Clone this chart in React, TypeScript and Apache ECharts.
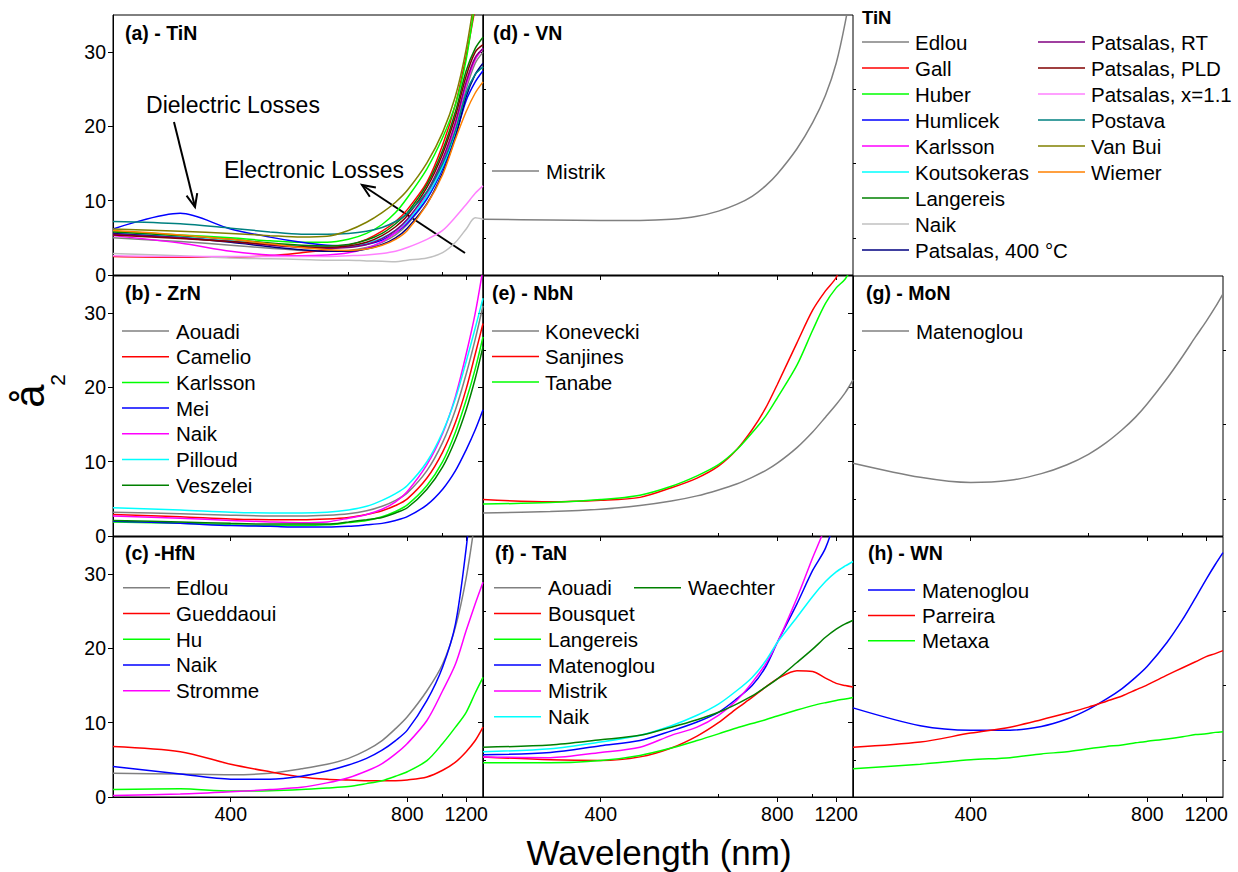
import React, { useEffect, useRef } from "react";
import * as echarts from "echarts";

// ---------- DATA ----------
const WAVELENGTHS = [300, 350, 400, 450, 500, 550, 600, 650, 700, 750, 800, 900, 1000, 1100, 1200, 1300, 1400];
const X_MAJOR_TICKS = [400, 800, 1200];
const X_MINOR_TICKS = [600, 1000];
const Y_MAJOR_TICKS = [0, 10, 20, 30];
const Y_MINOR_TICKS = [5, 15, 25];

// (a) TiN
const TIN_NAMES = ["Edlou", "Gall", "Huber", "Humlicek", "Karlsson", "Koutsokeras", "Langereis", "Naik", "Patsalas, 400 °C", "Patsalas, RT", "Patsalas, PLD", "Patsalas, x=1.1", "Postava", "Van Bui", "Wiemer"];
const tinEdlou = [5.0, 4.5, 4.0, 3.6, 3.3, 3.2, 3.3, 3.7, 4.4, 5.4, 6.8, 10.2, 14.5, 19.5, 25.0, 28.5, 30.0];
const tinGall = [2.5, 2.4, 2.4, 2.6, 3.0, 3.4, 4.0, 4.8, 5.9, 7.2, 8.8, 12.5, 17.5, 23.0, 29.5, 36, 42];
const tinHuber = [5.9, 5.4, 5.0, 4.6, 4.4, 4.4, 4.8, 5.6, 6.8, 8.4, 10.4, 14.3, 18.5, 23.0, 29.0, 37, 45];
const tinHumlicek = [6.2, 8.3, 6.2, 5.1, 4.4, 4.0, 3.9, 4.1, 4.7, 5.7, 7.0, 10.3, 14.3, 18.8, 23.5, 26.0, 27.5];
const tinKarlsson = [5.3, 4.3, 3.2, 2.7, 2.6, 2.7, 3.0, 3.6, 4.5, 5.7, 7.2, 10.8, 15.2, 20.2, 25.6, 29.0, 30.5];
const tinKoutsokeras = [5.6, 5.1, 4.6, 4.2, 3.9, 3.8, 3.9, 4.3, 5.0, 6.0, 7.3, 10.6, 14.6, 19.3, 24.5, 27.0, 28.0];
const tinLangereis = [5.8, 5.3, 4.8, 4.3, 4.0, 3.9, 4.1, 4.7, 5.6, 6.9, 8.4, 12.2, 16.8, 22.0, 27.5, 30.5, 32.0];
const tinNaik = [2.9, 2.6, 2.3, 2.2, 2.1, 2.0, 2.0, 1.9, 1.85, 1.8, 2.0, 2.3, 3.0, 4.4, 6.2, 7.7, 7.5];
const tinPatsalas400 = [5.6, 5.0, 4.4, 3.8, 3.4, 3.2, 3.2, 3.5, 4.1, 5.0, 6.3, 9.6, 13.8, 18.6, 24.0, 27.0, 28.5];
const tinPatsalasRT = [5.5, 5.0, 4.5, 4.0, 3.7, 3.6, 3.7, 4.1, 4.9, 6.0, 7.5, 11.2, 15.6, 20.6, 26.0, 29.3, 30.5];
const tinPatsalasPLD = [5.4, 4.9, 4.5, 4.1, 3.8, 3.7, 3.9, 4.4, 5.3, 6.5, 8.0, 11.8, 16.3, 21.4, 26.8, 30.0, 31.0];
const tinPatsalasX11 = [2.6, 2.5, 2.5, 2.5, 2.5, 2.5, 2.6, 2.7, 2.9, 3.2, 3.7, 4.8, 6.0, 7.8, 9.5, 11.0, 12.0];
const tinPostava = [7.2, 6.9, 6.3, 5.8, 5.5, 5.5, 5.6, 5.9, 6.4, 7.2, 8.3, 11.2, 15.0, 19.5, 24.5, 27.0, 28.0];
const tinVanBui = [6.2, 5.9, 5.6, 5.3, 5.1, 5.2, 6.0, 7.1, 8.4, 9.8, 11.4, 15.1, 19.2, 24.1, 30.4, 38, 46];
const tinWiemer = [6.0, 5.4, 4.8, 4.2, 3.7, 3.4, 3.3, 3.5, 4.0, 4.8, 6.0, 9.5, 13.5, 18.3, 22.0, 24.5, 26.0];

// (b) ZrN
const ZRN_NAMES = ["Aouadi", "Camelio", "Karlsson", "Mei", "Naik", "Pilloud", "Veszelei"];
const zrnAouadi = [3.2, 3.0, 2.8, 2.7, 2.7, 2.8, 3.0, 3.4, 4.0, 4.8, 5.8, 8.8, 12.6, 17.0, 21.8, 26.5, 31.0];
const zrnCamelio = [2.9, 2.6, 2.3, 2.2, 2.2, 2.3, 2.5, 2.9, 3.4, 4.1, 5.0, 7.8, 11.3, 15.3, 19.8, 24.5, 28.6];
const zrnKarlsson = [1.9, 1.7, 1.5, 1.4, 1.4, 1.5, 1.8, 2.1, 2.6, 3.3, 4.2, 6.8, 10.0, 14.0, 18.3, 22.5, 26.8];
const zrnMei = [2.0, 1.7, 1.4, 1.3, 1.2, 1.2, 1.3, 1.5, 1.7, 2.1, 2.6, 4.2, 6.3, 8.8, 11.6, 14.3, 17.0];
const zrnNaik = [2.7, 2.4, 2.1, 1.9, 1.8, 1.9, 2.4, 2.9, 3.6, 4.6, 6.0, 9.6, 13.8, 18.8, 24.5, 30.0, 36.0];
const zrnPilloud = [3.8, 3.5, 3.2, 3.1, 3.1, 3.2, 3.5, 4.0, 4.8, 5.7, 6.8, 10.0, 14.0, 18.5, 23.5, 28.0, 32.0];
const zrnVeszelei = [2.1, 1.9, 1.7, 1.6, 1.6, 1.6, 1.9, 2.2, 2.5, 3.1, 3.8, 6.3, 9.3, 13.0, 17.0, 21.2, 25.5];

// (c) HfN
const HFN_NAMES = ["Edlou", "Gueddaoui", "Hu", "Naik", "Stromme"];
const hfnEdlou = [3.2, 3.1, 3.0, 3.2, 3.8, 4.4, 5.2, 6.3, 7.6, 9.2, 10.8, 14.3, 17.9, 22.9, 29.5, 37.5, 46];
const hfnGueddaoui = [6.8, 6.1, 4.4, 3.4, 2.7, 2.4, 2.3, 2.2, 2.2, 2.2, 2.3, 2.7, 3.6, 4.7, 6.1, 7.6, 9.4];
const hfnHu = [1.0, 1.1, 0.8, 0.85, 1.0, 1.2, 1.4, 1.8, 2.2, 2.8, 3.4, 4.9, 7.2, 9.4, 11.4, 14.0, 16.1];
const hfnNaik = [4.1, 3.1, 2.4, 2.4, 2.8, 3.5, 4.3, 5.2, 6.3, 7.6, 9.0, 13.0, 17.5, 23.3, 33.5, 45, 55];
const hfnStromme = [0.2, 0.4, 0.7, 1.0, 1.3, 1.9, 2.6, 3.5, 4.5, 5.8, 7.2, 10.3, 14.3, 17.9, 22.4, 26.0, 28.9];

// (d) VN
const VN_NAMES = ["Mistrik"];
const vnMistrik = [7.5, 7.4, 7.35, 7.35, 7.5, 7.9, 8.6, 9.5, 10.6, 12.0, 13.6, 17.0, 20.5, 24.2, 28.5, 34, 40];

// (e) NbN
const NBN_NAMES = ["Konevecki", "Sanjines", "Tanabe"];
const nbnKonevecki = [3.1, 3.3, 3.6, 4.1, 4.7, 5.4, 6.2, 7.0, 7.9, 8.8, 9.8, 11.9, 14.0, 16.0, 17.7, 19.3, 21.0];
const nbnSanjines = [4.9, 4.6, 4.8, 5.2, 6.5, 7.8, 9.4, 11.6, 14.3, 17.2, 20.4, 26.0, 30.4, 33.0, 34.8, 38, 42];
const nbnTanabe = [4.3, 4.5, 4.9, 5.5, 6.7, 8.1, 9.6, 11.6, 13.9, 16.1, 18.6, 23.0, 27.7, 31.3, 33.4, 34.6, 36.5];

// (f) TaN
const TAN_NAMES = ["Aouadi", "Bousquet", "Langereis", "Matenoglou", "Mistrik", "Naik", "Waechter"];
const tanAouadi = [38, 38.5, 39, 40, 41, 42, 43, 44, 45, 46, 47, 49, 51, 53, 55, 57, 59];
const tanBousquet = [5.4, 5.0, 4.9, 5.4, 6.6, 8.2, 10.0, 11.9, 13.4, 14.8, 15.9, 17.0, 16.9, 16.0, 15.3, 15.0, 14.8];
const tanLangereis = [4.6, 4.6, 4.9, 5.6, 6.6, 7.6, 8.5, 9.3, 9.9, 10.4, 10.9, 11.7, 12.3, 12.7, 13.0, 13.2, 13.4];
const tanMatenoglou = [5.7, 6.0, 6.9, 7.6, 8.9, 10.1, 11.4, 13.2, 15.0, 17.5, 20.8, 26.0, 30.5, 33.5, 38, 44, 50];
const tanMistrik = [5.4, 5.3, 6.0, 6.7, 8.3, 9.4, 11.0, 13.0, 15.4, 17.9, 20.8, 26.8, 32.2, 36.5, 42, 48, 54];
const tanNaik = [6.1, 6.5, 7.4, 8.3, 9.6, 11.0, 12.5, 14.3, 16.1, 18.3, 20.8, 24.2, 27.0, 29.0, 30.3, 31.1, 31.7];
const tanWaechter = [6.7, 7.0, 7.7, 8.3, 9.4, 10.4, 11.4, 12.5, 13.6, 14.8, 15.9, 18.1, 19.9, 21.5, 22.6, 23.3, 23.8];

// (g) MoN
const MON_NAMES = ["Matenoglou"];
const monMatenoglou = [9.8, 7.9, 7.2, 7.5, 8.4, 9.6, 11.0, 12.6, 14.3, 16.0, 17.8, 21.2, 24.2, 26.8, 28.9, 30.8, 32.6];

// (h) WN
const WN_NAMES = ["Matenoglou", "Parreira", "Metaxa"];
const wnMatenoglou = [12.0, 9.6, 9.0, 9.0, 9.5, 10.5, 11.8, 13.2, 14.6, 16.1, 17.6, 20.8, 23.9, 26.8, 29.3, 31.3, 32.9];
const wnParreira = [6.7, 7.4, 8.6, 9.4, 10.4, 11.3, 12.1, 12.9, 13.6, 14.4, 15.1, 16.4, 17.4, 18.2, 18.9, 19.3, 19.7];
const wnMetaxa = [3.8, 4.4, 5.0, 5.3, 5.8, 6.1, 6.5, 6.8, 7.0, 7.3, 7.5, 7.8, 8.1, 8.4, 8.5, 8.7, 8.8];

// ---------- STYLE ----------
const C = {
  gray: "#808080", red: "#ff0000", green: "#00ff00", blue: "#0000ff", magenta: "#ff00ff",
  cyan: "#00ffff", dkgreen: "#008000", ltgray: "#c0c0c0", navy: "#000080", purple: "#800080",
  wine: "#800000", pink: "#ff80ff", teal: "#008080", olive: "#808000", orange: "#ff8000",
};
const FONT = "'Liberation Sans', Arial, Helvetica, sans-serif";
const COL_LEFT = [113, 483, 853];
const ROW_TOP = [15, 276, 537];
const GRID_W = 370;
const GRID_H = 260;

type Legend = { lineX: number; textX: number; y0: number; gap: number; rowsPerCol: number; colDX: number };
type Panel = {
  label: string; labelX: number; labelY: number; col: number; row: number;
  names: string[]; values: number[][]; colors: string[]; legend: Legend;
};

const PANELS: Panel[] = [
  {
    label: "(a) - TiN", labelX: 125, labelY: 33, col: 0, row: 0, names: TIN_NAMES,
    values: [tinEdlou, tinGall, tinHuber, tinHumlicek, tinKarlsson, tinKoutsokeras, tinLangereis, tinNaik, tinPatsalas400, tinPatsalasRT, tinPatsalasPLD, tinPatsalasX11, tinPostava, tinVanBui, tinWiemer],
    colors: [C.gray, C.red, C.green, C.blue, C.magenta, C.cyan, C.dkgreen, C.ltgray, C.navy, C.purple, C.wine, C.pink, C.teal, C.olive, C.orange],
    legend: { lineX: 862, textX: 915, y0: 42, gap: 26, rowsPerCol: 9, colDX: 176 },
  },
  {
    label: "(b) - ZrN", labelX: 125, labelY: 292.5, col: 0, row: 1, names: ZRN_NAMES,
    values: [zrnAouadi, zrnCamelio, zrnKarlsson, zrnMei, zrnNaik, zrnPilloud, zrnVeszelei],
    colors: [C.gray, C.red, C.green, C.blue, C.magenta, C.cyan, C.dkgreen],
    legend: { lineX: 122, textX: 176, y0: 331, gap: 25.7, rowsPerCol: 99, colDX: 0 },
  },
  {
    label: "(c) -HfN", labelX: 125, labelY: 552.5, col: 0, row: 2, names: HFN_NAMES,
    values: [hfnEdlou, hfnGueddaoui, hfnHu, hfnNaik, hfnStromme],
    colors: [C.gray, C.red, C.green, C.blue, C.magenta],
    legend: { lineX: 123, textX: 176, y0: 587.7, gap: 25.75, rowsPerCol: 99, colDX: 0 },
  },
  {
    label: "(d) - VN", labelX: 493, labelY: 33, col: 1, row: 0, names: VN_NAMES,
    values: [vnMistrik], colors: [C.gray],
    legend: { lineX: 492, textX: 546, y0: 171, gap: 25.7, rowsPerCol: 99, colDX: 0 },
  },
  {
    label: "(e) - NbN", labelX: 492, labelY: 292.5, col: 1, row: 1, names: NBN_NAMES,
    values: [nbnKonevecki, nbnSanjines, nbnTanabe], colors: [C.gray, C.red, C.green],
    legend: { lineX: 492, textX: 545, y0: 331, gap: 25.5, rowsPerCol: 99, colDX: 0 },
  },
  {
    label: "(f) - TaN", labelX: 495, labelY: 552.5, col: 1, row: 2, names: TAN_NAMES,
    values: [tanAouadi, tanBousquet, tanLangereis, tanMatenoglou, tanMistrik, tanNaik, tanWaechter],
    colors: [C.gray, C.red, C.green, C.blue, C.magenta, C.cyan, C.dkgreen],
    legend: { lineX: 494, textX: 548, y0: 587.7, gap: 25.8, rowsPerCol: 6, colDX: 140 },
  },
  {
    label: "(g) - MoN", labelX: 866, labelY: 292.5, col: 2, row: 1, names: MON_NAMES,
    values: [monMatenoglou], colors: [C.gray],
    legend: { lineX: 862, textX: 916, y0: 331, gap: 25.7, rowsPerCol: 99, colDX: 0 },
  },
  {
    label: "(h) - WN", labelX: 868, labelY: 552.5, col: 2, row: 2, names: WN_NAMES,
    values: [wnMatenoglou, wnParreira, wnMetaxa], colors: [C.blue, C.red, C.green],
    legend: { lineX: 868, textX: 922, y0: 590, gap: 25.4, rowsPerCol: 99, colDX: 0 },
  },
];

const toEnergy = (nm: number) => 1240 / nm;

function arrow(x1: number, y1: number, x2: number, y2: number) {
  const dx = x2 - x1, dy = y2 - y1;
  const len = Math.hypot(dx, dy);
  const ux = dx / len, uy = dy / len;
  const bx = x2 - 13 * ux, by = y2 - 13 * uy;
  const nx = -uy, ny = ux;
  return [
    { type: "line", shape: { x1, y1, x2, y2 }, style: { stroke: "#000", lineWidth: 2 }, silent: true },
    {
      type: "polyline",
      shape: { points: [[bx + 5.5 * nx, by + 5.5 * ny], [x2, y2], [bx - 5.5 * nx, by - 5.5 * ny]] },
      style: { stroke: "#000", lineWidth: 2, fill: null }, silent: true,
    },
  ];
}

function buildOption() {
  const grid: any[] = [];
  const xAxis: any[] = [];
  const yAxis: any[] = [];
  const series: any[] = [];
  const graphic: any[] = [];

  PANELS.forEach((p, i) => {
    grid.push({
      left: COL_LEFT[p.col], top: ROW_TOP[p.row], width: GRID_W, height: GRID_H,
      show: true, borderColor: "#000", borderWidth: 1, backgroundColor: "transparent",
    });
    const xBase = {
      type: "value", gridIndex: i, inverse: true, min: toEnergy(1400), max: toEnergy(300),
      splitLine: { show: false },
      axisLine: { show: true, onZero: false, lineStyle: { color: "#000", width: 1 } },
    };
    xAxis.push({
      ...xBase,
      axisTick: { show: true, customValues: X_MAJOR_TICKS.map(toEnergy), length: 5, lineStyle: { color: "#000", width: 1 } },
      axisLabel: {
        show: p.row === 2, customValues: X_MAJOR_TICKS.map(toEnergy),
        formatter: (v: number) => String(Math.round(1240 / v)),
        fontSize: 19.5, color: "#000", fontFamily: FONT, margin: 7,
      },
    });
    xAxis.push({
      ...xBase,
      axisLine: { show: false },
      axisTick: { show: true, customValues: X_MINOR_TICKS.map(toEnergy), length: 3, lineStyle: { color: "#000", width: 1 } },
      axisLabel: { show: false },
    });
    const yBase = {
      type: "value", gridIndex: i, min: 0, max: 35, splitLine: { show: false },
      axisLine: { show: true, onZero: false, lineStyle: { color: "#000", width: 1 } },
    };
    yAxis.push({
      ...yBase,
      axisTick: { show: true, customValues: Y_MAJOR_TICKS, length: 5, lineStyle: { color: "#000", width: 1 } },
      axisLabel: { show: p.col === 0, customValues: Y_MAJOR_TICKS, fontSize: 19.5, color: "#000", fontFamily: FONT, margin: 7 },
    });
    yAxis.push({
      ...yBase,
      axisLine: { show: false },
      axisTick: { show: true, customValues: Y_MINOR_TICKS, length: 3, lineStyle: { color: "#000", width: 1 } },
      axisLabel: { show: false },
    });

    p.names.forEach((name, j) => {
      series.push({
        type: "line", name, xAxisIndex: 2 * i, yAxisIndex: 2 * i,
        data: WAVELENGTHS.map((w, k) => [toEnergy(w), p.values[j][k]]),
        smooth: 0.3, symbol: "none", showSymbol: false, clip: true, silent: true,
        lineStyle: { color: p.colors[j], width: 1.5 }, itemStyle: { color: p.colors[j] },
      });
      const L = p.legend;
      const c = Math.floor(j / L.rowsPerCol);
      const r = j % L.rowsPerCol;
      const y = L.y0 + r * L.gap;
      graphic.push({
        type: "line", shape: { x1: L.lineX + c * L.colDX, y1: y, x2: L.lineX + c * L.colDX + 47, y2: y },
        style: { stroke: p.colors[j], lineWidth: 1.5 }, silent: true,
      });
      graphic.push({
        type: "text", x: L.textX + c * L.colDX, y,
        style: { text: name, fontSize: 20.5, fontFamily: FONT, fill: "#000", align: "left", verticalAlign: "middle" },
        silent: true,
      });
    });

    graphic.push({
      type: "text", x: p.labelX, y: p.labelY,
      style: { text: p.label, fontSize: 19.5, fontWeight: "bold", fontFamily: FONT, fill: "#000", align: "left", verticalAlign: "middle" },
      silent: true,
    });
  });

  graphic.push({
    type: "text", x: 862, y: 17,
    style: { text: "TiN", fontSize: 18.5, fontWeight: "bold", fontFamily: FONT, fill: "#000", align: "left", verticalAlign: "middle" },
    silent: true,
  });

  graphic.push({
    type: "text", x: 233, y: 105,
    style: { text: "Dielectric Losses", fontSize: 23, fontFamily: FONT, fill: "#000", align: "center", verticalAlign: "middle" },
    silent: true,
  });
  graphic.push({
    type: "text", x: 314, y: 170,
    style: { text: "Electronic Losses", fontSize: 23, fontFamily: FONT, fill: "#000", align: "center", verticalAlign: "middle" },
    silent: true,
  });
  graphic.push(...arrow(174, 122, 195, 207));
  graphic.push(...arrow(465, 253, 362, 185));

  graphic.push({
    type: "text", x: 659, y: 852,
    style: { text: "Wavelength (nm)", fontSize: 35, fontFamily: FONT, fill: "#000", align: "center", verticalAlign: "middle" },
    silent: true,
  });
  graphic.push({
    type: "group", x: 29, y: 396, rotation: Math.PI / 2,
    children: [
      { type: "text", x: 0, y: 0, style: { text: "å", fontSize: 42, fontFamily: FONT, fill: "#000", align: "center", verticalAlign: "middle" } },
      { type: "text", x: 16, y: 28, style: { text: "2", fontSize: 21, fontFamily: FONT, fill: "#000", align: "center", verticalAlign: "middle" } },
    ],
    silent: true,
  });

  return {
    animation: false,
    backgroundColor: "#fff",
    grid, xAxis, yAxis, series, graphic,
  };
}

export default function App() {
  const ref = useRef<HTMLDivElement>(null);
  useEffect(() => {
    if (!ref.current) return;
    const chart = echarts.init(ref.current, undefined, { renderer: "svg" });
    chart.setOption(buildOption() as any);
    return () => chart.dispose();
  }, []);
  return (
    <div
      ref={ref}
      style={{ position: "fixed", left: 0, top: 0, width: 1238, height: 872, background: "#fff" }}
    />
  );
}
